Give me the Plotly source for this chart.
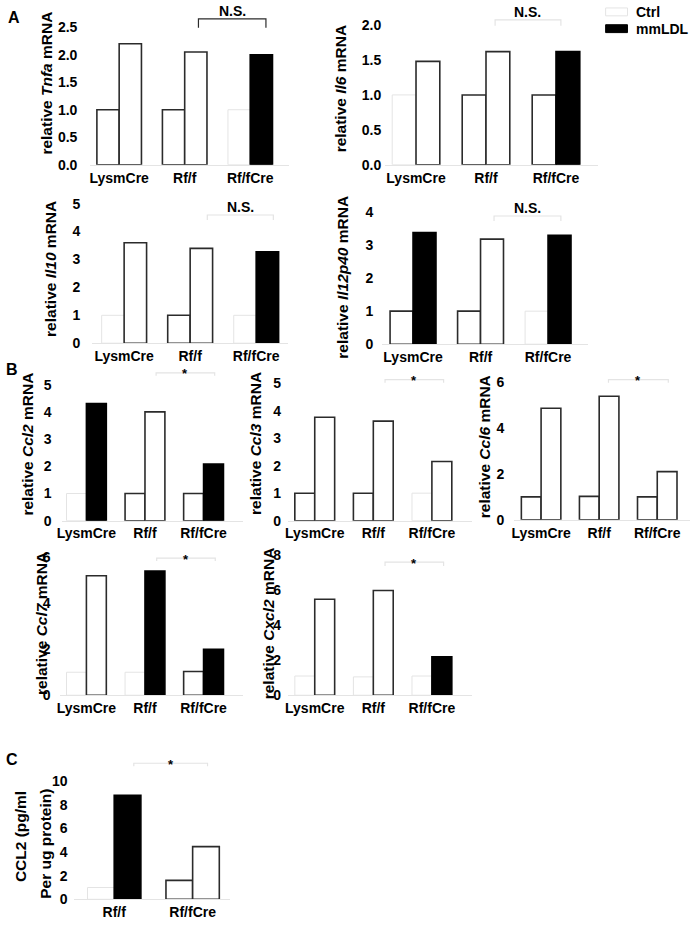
import plotly.graph_objects as go

W, H = 692, 930
FONT = "Liberation Sans, Arial, sans-serif"
DARK = "#2b2b2b"
FAINT = "#e4e4e4"

# ---------------- data ----------------
groups3 = ["LysmCre", "Rf/f", "Rf/fCre"]
groups2 = ["Rf/f", "Rf/fCre"]

tnfa_ctrl = [1.0, 1.0, 1.0]
tnfa_mm = [2.2, 2.05, 2.0]
il6_ctrl = [1.0, 1.0, 1.0]
il6_mm = [1.48, 1.62, 1.62]
il10_ctrl = [1.0, 1.0, 1.0]
il10_mm = [3.6, 3.4, 3.28]
il12_ctrl = [1.0, 1.0, 1.0]
il12_mm = [3.38, 3.18, 3.3]
ccl2_ctrl = [1.0, 1.0, 1.0]
ccl2_mm = [4.3, 4.0, 2.08]
ccl3_ctrl = [1.0, 1.0, 1.0]
ccl3_mm = [3.76, 3.62, 2.15]
ccl6_ctrl = [1.0, 1.02, 1.0]
ccl6_mm = [4.87, 5.4, 2.1]
ccl7_ctrl = [1.0, 1.0, 1.03]
ccl7_mm = [5.2, 5.4, 2.0]
cxcl2_ctrl = [1.1, 1.05, 1.1]
cxcl2_mm = [5.5, 6.0, 2.2]
ccl2p_ctrl = [1.0, 1.6]
ccl2p_mm = [8.8, 4.45]

TICK_SIZE = 14
TITLE_SIZE = 15.5

# ---------------- panel specs (styles / geometry in px) ----------------
panels = [
    dict(cats=groups3, ctrl=tnfa_ctrl, mm=tnfa_mm, cedge="ddf", mfill="wwk",
         c0=115, sp=66, left=86, right=286, y0=162, k=55.8, top=5, so=12,
         tickvals=[0, 0.5, 1, 1.5, 2, 2.5], fmt=".1f",
         br=(1.21, 2.24, 14, 23, DARK), sig="N.S.",
         title="relative <i>Tnfa</i> mRNA", tpos=(42, 79)),
    dict(cats=groups3, ctrl=il6_ctrl, mm=il6_mm, cedge="fdd", mfill="wwk",
         c0=414, sp=70.5, left=383, right=597, y0=162, k=70.8, top=5, so=3,
         tickvals=[0, 0.5, 1, 1.5, 2], fmt=".1f",
         br=(1.13, 2.07, 15, 21, FAINT), sig="N.S.",
         title="relative <i>Il6</i> mRNA", tpos=(338, 85)),
    dict(cats=groups3, ctrl=il10_ctrl, mm=il10_mm, cedge="fdf", mfill="wwk",
         c0=120, sp=66.5, left=88, right=285, y0=343, k=28.3, top=198, so=11,
         tickvals=[0, 1, 2, 3, 4, 5], fmt="d",
         br=(1.26, 2.26, 213, 218, FAINT), sig="N.S.",
         title="relative <i>Il10</i> mRNA", tpos=(46, 268)),
    dict(cats=groups3, ctrl=il12_ctrl, mm=il12_mm, cedge="ddf", mfill="kwk",
         c0=411, sp=68, left=380, right=587, y0=344, k=33.5, top=198, so=8,
         tickvals=[0, 1, 2, 3, 4], fmt="d",
         br=(1.2, 2.19, 214, 219, FAINT), sig="N.S.",
         title="relative <i>Il12p40</i> mRNA", tpos=(340, 276)),
    dict(cats=groups3, ctrl=ccl2_ctrl, mm=ccl2_mm, cedge="fdd", mfill="kwk",
         c0=82, sp=59, left=57, right=240, y0=523, k=27.6, top=365, so=9,
         tickvals=[0, 1, 2, 3, 4, 5], fmt="d",
         br=(1.19, 2.19, 373, 376, FAINT), sig="*",
         title="relative <i>Ccl2</i> mRNA", tpos=(23, 445)),
    dict(cats=groups3, ctrl=ccl3_ctrl, mm=ccl3_mm, cedge="ddf", mfill="www",
         c0=312, sp=59, left=285, right=470, y0=523, k=27.9, top=365, so=6,
         tickvals=[0, 1, 2, 3, 4, 5], fmt="d",
         br=(1.2, 2.2, 380, 383, FAINT), sig="*",
         title="relative <i>Ccl3</i> mRNA", tpos=(253, 445)),
    dict(cats=groups3, ctrl=ccl6_ctrl, mm=ccl6_mm, cedge="ddd", mfill="www",
         c0=540, sp=58.5, left=513, right=690, y0=522, k=23.2, top=365, so=9,
         tickvals=[0, 2, 4, 6], fmt="d",
         br=(1.16, 2.19, 380, 383, FAINT), sig="*",
         title="relative <i>Ccl6</i> mRNA", tpos=(483, 448)),
    dict(cats=groups3, ctrl=ccl7_ctrl, mm=ccl7_mm, cedge="ffd", mfill="wkk",
         c0=82, sp=59, left=55, right=240, y0=700, k=23.3, top=548, so=8,
         tickvals=[0, 2, 4, 6], fmt="d",
         br=(1.2, 2.2, 561, 564, FAINT), sig="*",
         title="relative <i>Ccl7</i> mRNA", tpos=(37, 627)),
    dict(cats=groups3, ctrl=cxcl2_ctrl, mm=cxcl2_mm, cedge="fff", mfill="wwk",
         c0=312, sp=59, left=285, right=470, y0=700, k=17.7, top=548, so=6,
         tickvals=[0, 2, 4, 6, 8], fmt="d",
         br=(1.2, 2.2, 565, 569, FAINT), sig="*",
         title="relative <i>Cxcl2</i> mRNA", tpos=(265, 627)),
    dict(cats=groups2, ctrl=ccl2p_ctrl, mm=ccl2p_mm, cedge="fd", mfill="kw",
         c0=110, sp=79, left=70, right=227, y0=907, k=12.0, top=760, so=6,
         tickvals=[0, 2, 4, 6, 8, 10], fmt="d",
         br=(0.25, 1.19, 769, 772, FAINT), sig="*",
         title=None, tpos=None),
]

fig = go.Figure()
shapes = []
annotations = []

for i, p in enumerate(panels):
    n = "" if i == 0 else str(i + 1)
    xa, ya = "x" + n, "y" + n
    xpos = list(range(len(p["cats"])))
    c_line = [DARK if e == "d" else FAINT for e in p["cedge"]]
    c_w = [1.6 if e == "d" else 1.0 for e in p["cedge"]]
    m_fill = ["black" if f == "k" else "white" for f in p["mfill"]]
    m_line = ["black" if f == "k" else DARK for f in p["mfill"]]

    fig.add_trace(go.Bar(x=xpos, y=p["ctrl"], xaxis=xa, yaxis=ya, name="Ctrl",
                         showlegend=False, hoverinfo="skip",
                         marker=dict(color="white", line=dict(color=c_line, width=c_w))))
    fig.add_trace(go.Bar(x=xpos, y=p["mm"], xaxis=xa, yaxis=ya, name="mmLDL",
                         showlegend=False, hoverinfo="skip",
                         marker=dict(color=m_fill, line=dict(color=m_line, width=1.6))))

    r0 = (p["left"] - p["c0"]) / p["sp"]
    r1 = (p["right"] - p["c0"]) / p["sp"]
    ytop = (p["y0"] - p["top"]) / p["k"]
    xdom = [p["left"] / W, p["right"] / W]
    ydom = [1 - p["y0"] / H, 1 - p["top"] / H]

    fig.update_layout({
        "xaxis" + n: dict(domain=xdom, range=[r0, r1], anchor=ya,
                          tickvals=xpos, ticktext=p["cats"], showgrid=False,
                          zeroline=False, showline=True, linecolor=FAINT, linewidth=1,
                          ticks="", fixedrange=True,
                          tickfont=dict(family=FONT, size=TICK_SIZE, color="black", weight="bold")),
        "yaxis" + n: dict(domain=ydom, range=[0, ytop], anchor=xa,
                          tickvals=p["tickvals"], tickformat=p["fmt"], showgrid=False,
                          zeroline=False, showline=False, ticks="", fixedrange=True,
                          ticklabelstandoff=p["so"],
                          tickfont=dict(family=FONT, size=TICK_SIZE, color="black", weight="bold")),
    })

    # significance bracket
    bx0, bx1, by, bdrop, bcol = p["br"]
    yb = (p["y0"] - by) / p["k"]
    yd = (p["y0"] - bdrop) / p["k"]
    shapes.append(dict(type="path", xref=xa, yref=ya,
                       path=f"M {bx0},{yd} L {bx0},{yb} L {bx1},{yb} L {bx1},{yd}",
                       line=dict(color=bcol, width=1.2)))
    if p["sig"] == "*":
        annotations.append(dict(xref=xa, yref=ya, x=(bx0 + bx1) / 2, y=yb,
                                text="<b>*</b>", showarrow=False, yanchor="middle",
                                yshift=-1,
                                font=dict(family=FONT, size=13, color="black")))
    else:
        annotations.append(dict(xref=xa, yref=ya, x=(bx0 + bx1) / 2, y=yb,
                                text="<b>N.S.</b>", showarrow=False, yanchor="bottom",
                                yshift=-2,
                                font=dict(family=FONT, size=14, color="black")))
    if p["title"]:
        tx, ty = p["tpos"]
        annotations.append(dict(xref="paper", yref="paper", x=tx / W, y=1 - ty / H,
                                text="<b>" + p["title"] + "</b>", textangle=-90,
                                showarrow=False, xanchor="center", yanchor="middle",
                                font=dict(family=FONT, size=TITLE_SIZE, color="black")))

# panel C two-line y title
for txt, tx, ty in [("CCL2 (pg/ml", 15, 843), ("Per ug protein)", 40, 851)]:
    annotations.append(dict(xref="paper", yref="paper", x=tx / W, y=1 - ty / H,
                            text="<b>" + txt + "</b>", textangle=-90, showarrow=False,
                            xanchor="center", yanchor="middle",
                            font=dict(family=FONT, size=TITLE_SIZE, color="black")))

# panel letters
for letter, lx, ly in [("A", 9, 13), ("B", 7, 370), ("C", 7, 765)]:
    annotations.append(dict(xref="paper", yref="paper", x=lx / W, y=1 - ly / H,
                            text="<b>" + letter + "</b>", showarrow=False,
                            xanchor="center", yanchor="middle",
                            font=dict(family=FONT, size=16, color="black")))

# legend
legend_items = [("Ctrl", "white", FAINT, 7), ("mmLDL", "black", "black", 24)]
for label, fill, edge, cy in legend_items:
    shapes.append(dict(type="rect", xref="paper", yref="paper",
                       x0=605 / W, x1=627 / W, y0=1 - (cy + 4) / H, y1=1 - (cy - 4) / H,
                       fillcolor=fill, line=dict(color=edge, width=1)))
    annotations.append(dict(xref="paper", yref="paper", x=634 / W, y=1 - cy / H,
                            text="<b>" + label + "</b>", showarrow=False,
                            xanchor="left", yanchor="middle",
                            font=dict(family=FONT, size=14, color="black")))

fig.update_layout(width=W, height=H, margin=dict(l=0, r=0, t=0, b=0),
                  paper_bgcolor="white", plot_bgcolor="white",
                  barmode="group", bargap=0.32, bargroupgap=0,
                  showlegend=False, shapes=shapes, annotations=annotations,
                  hovermode=False, font=dict(family=FONT))

fig.write_html("out.html", config={"displayModeBar": False, "staticPlot": True},
               post_script="document.body.style.margin='0';document.body.style.overflow='hidden';")
